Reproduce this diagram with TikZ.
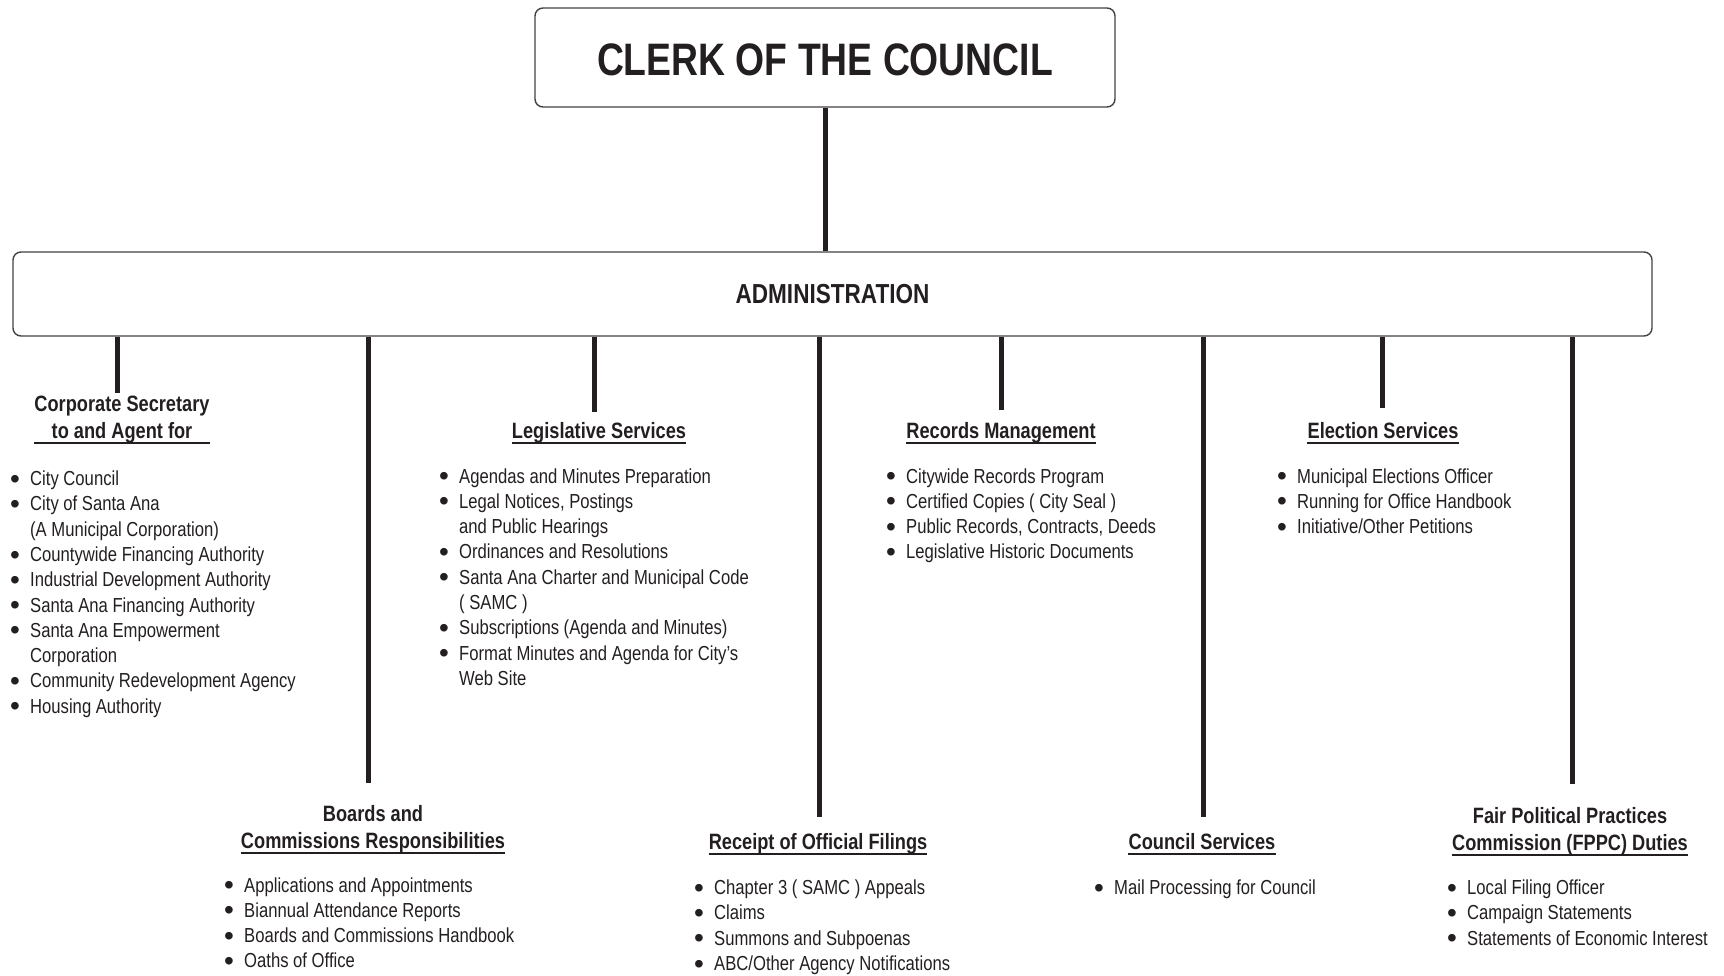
\documentclass[tikz,border=0pt]{standalone}
\usepackage{fontspec}
\setmainfont{Liberation Sans}[FakeStretch=0.82]
\newfontfamily\bulfont{Liberation Sans}
\usetikzlibrary{positioning}
\definecolor{ink}{HTML}{231F20}
\tikzset{
  box/.style={draw=ink!85, line width=1.4pt, rounded corners=8pt, text=ink},
  conn/.style={draw=ink, line width=5pt},
  ttl/.style={font=\fontsize{22.2}{26.5}\selectfont\bfseries, align=center, inner xsep=0pt, inner ysep=1.5pt, text depth=3pt, anchor=south, text=ink},
  lst/.style={font=\fontsize{20.3}{25.3}\selectfont, anchor=base west, inner sep=0pt, text=ink},
  uline/.style={draw=ink, line width=1.3pt}
}
\newcommand{\bt}{\makebox[20pt][l]{\raisebox{-2.6pt}{\bulfont\fontsize{28}{28}\selectfont\textbullet}}}

\begin{document}
\begin{tikzpicture}[x=1pt,y=1pt]
    \useasboundingbox (0,0) rectangle (1724,-976);

    % top boxes
    \node[box, minimum width=580pt, minimum height=99pt, text height=36pt, font=\fontsize{45.5}{50}\selectfont\bfseries] (clerk) at (825,-57.5) {CLERK OF THE COUNCIL};
    \node[box, minimum width=1639pt, minimum height=84pt, font=\fontsize{27.5}{30}\selectfont\bfseries] (admin) at (832.5,-294) {ADMINISTRATION};
    \draw[conn] (clerk.south) -- (clerk.south |- admin.north);

    % titles, upper row
    \node[ttl] (corp) at (122,-443) {Corporate Secretary\\to and Agent for};
    \node[ttl] (legis) at (599,-443) {Legislative Services};
    \node[ttl] (recs) at (1001,-443) {Records Management};
    \node[ttl] (elect) at (1383,-443) {Election Services};

    % titles, lower row
    \node[ttl] (boards) at (373,-853) {Boards and\\Commissions Responsibilities};
    \node[ttl] (filing) at (818,-854) {Receipt of Official Filings};
    \node[ttl] (cserv) at (1202,-854) {Council Services};
    \node[ttl] (fppc) at (1570,-855) {Fair Political Practices\\Commission (FPPC) Duties};

    % underlines
    \foreach \n in {corp,legis,recs,elect,boards,filing,cserv,fppc}
      \draw[uline] (\n.south west) -- (\n.south east);

    % connectors
    \foreach \n/\dx/\gap in {corp/-4.5/2, legis/-4.5/9, recs/0/11, elect/-1/13,
                             boards/-4.5/21, filing/1/15, cserv/1.5/15, fppc/2/22}
      \draw[conn, shorten <=\gap pt] ([xshift=\dx pt]\n.north) -- ([xshift=\dx pt]\n.north |- admin.south);

    % lists
    \node[lst] (corpl) at (10,-485.5) {\begin{tabular}[t]{@{}l@{}l@{}}
      \bt & City Council\\
      \bt & City of Santa Ana\\
          & (A Municipal Corporation)\\
      \bt & Countywide Financing Authority\\
      \bt & Industrial Development Authority\\
      \bt & Santa Ana Financing Authority\\
      \bt & Santa Ana Empowerment\\
          & Corporation\\
      \bt & Community Redevelopment Agency\\
      \bt & Housing Authority
    \end{tabular}};
    \node[lst] (legisl) at (439,-483) {\begin{tabular}[t]{@{}l@{}l@{}}
      \bt & Agendas and Minutes Preparation\\
      \bt & Legal Notices, Postings\\
          & and Public Hearings\\
      \bt & Ordinances and Resolutions\\
      \bt & Santa Ana Charter and Municipal Code\\
          & ( SAMC )\\
      \bt & Subscriptions (Agenda and Minutes)\\
      \bt & Format Minutes and Agenda for City's\\
          & Web Site
    \end{tabular}};
    \node[lst] (recsl) at (886,-483) {\begin{tabular}[t]{@{}l@{}l@{}}
      \bt & Citywide Records Program\\
      \bt & Certified Copies ( City Seal )\\
      \bt & Public Records, Contracts, Deeds\\
      \bt & Legislative Historic Documents
    \end{tabular}};
    \node[lst] (electl) at (1277,-483) {\begin{tabular}[t]{@{}l@{}l@{}}
      \bt & Municipal Elections Officer\\
      \bt & Running for Office Handbook\\
      \bt & Initiative/Other Petitions
    \end{tabular}};
    \node[lst] (boardsl) at (224,-892) {\begin{tabular}[t]{@{}l@{}l@{}}
      \bt & Applications and Appointments\\
      \bt & Biannual Attendance Reports\\
      \bt & Boards and Commissions Handbook\\
      \bt & Oaths of Office
    \end{tabular}};
    \node[lst] (filingl) at (694,-894.5) {\begin{tabular}[t]{@{}l@{}l@{}}
      \bt & Chapter 3 ( SAMC ) Appeals\\
      \bt & Claims\\
      \bt & Summons and Subpoenas\\
      \bt & ABC/Other Agency Notifications
    \end{tabular}};
    \node[lst] (cservl) at (1094,-894.5) {\begin{tabular}[t]{@{}l@{}l@{}}
      \bt & Mail Processing for Council
    \end{tabular}};
    \node[lst] (fppcl) at (1447,-894.5) {\begin{tabular}[t]{@{}l@{}l@{}}
      \bt & Local Filing Officer\\
      \bt & Campaign Statements\\
      \bt & Statements of Economic Interest
    \end{tabular}};
\end{tikzpicture}
\end{document}
